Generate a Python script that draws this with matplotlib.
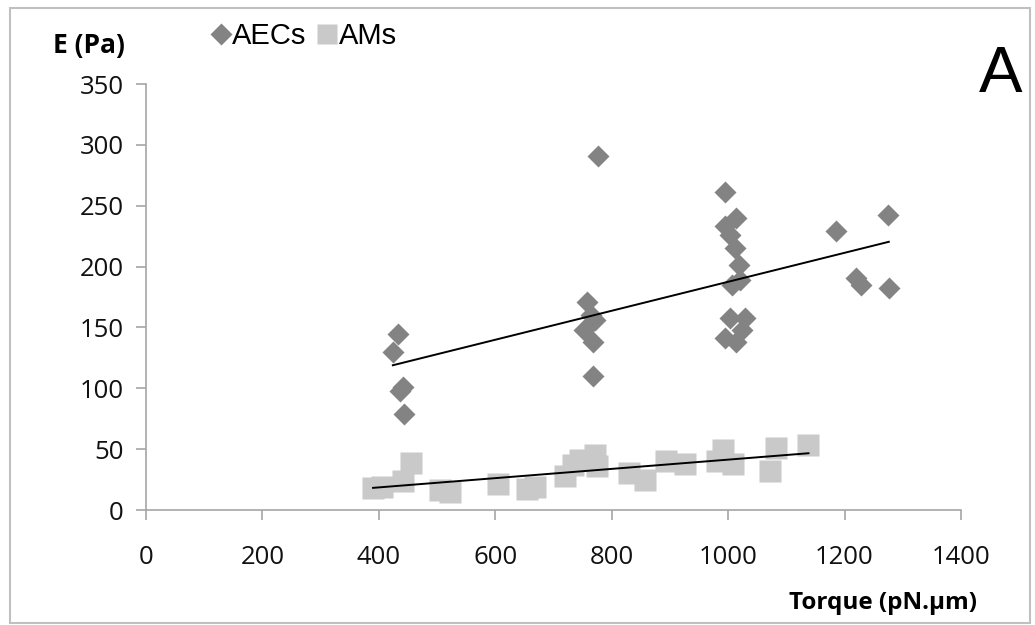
import numpy as np
import matplotlib.pyplot as plt
from matplotlib.lines import Line2D
from matplotlib.patches import Rectangle

# AECs (diamonds)
aec_torque = [433, 424, 437, 442, 443, 776, 758, 765, 771, 752, 768, 767,
              994, 1013, 994, 1003, 1012, 1018, 1006, 1020, 1003, 1029, 994,
              1013, 1023, 1185, 1274, 1220, 1229, 1276]
aec_e = [145, 130, 98, 101, 79, 291, 171, 160, 156, 148, 138, 110,
         261, 240, 233, 226, 215, 201, 185, 189, 158, 158, 141,
         138, 148, 229, 242, 191, 185, 182]

# AMs (squares)
am_torque = [390, 405, 442, 456, 505, 522, 604, 654, 668, 720, 734, 746,
             771, 774, 829, 857, 893, 926, 980, 991, 1009, 1072, 1083, 1138]
am_e = [18, 19, 24, 39, 16.5, 15, 21, 17, 19, 28, 37, 41,
        45, 36, 30, 25, 40, 38, 40, 49, 38, 32, 51, 53]

xticks = [0, 200, 400, 600, 800, 1000, 1200, 1400]
yticks = [0, 50, 100, 150, 200, 250, 300, 350]

aec_col = '#838383'
am_col = '#c9c9c9'
axis_col = '#a6a6a6'

plt.rcParams['font.family'] = ['Open Sans', 'DejaVu Sans']

fig = plt.figure(figsize=(10.35, 6.25), dpi=100)
ax = fig.add_axes([0.1411, 0.184, 0.9285 - 0.1411, 0.8656 - 0.184])

ax.plot(am_torque, am_e, 's', color=am_col, ms=15.5, mec='none', zorder=2)
ax.plot(aec_torque, aec_e, 'D', color=aec_col, ms=11, mec='none', zorder=3)

# linear trendlines over each data range
for xs, ys in [(aec_torque, aec_e), (am_torque, am_e)]:
    k, b = np.polyfit(xs, ys, 1)
    xr = np.array([min(xs), max(xs)])
    ax.plot(xr, k * xr + b, color='black', lw=1.4, zorder=4)

ax.set_xlim(0, 1400)
ax.set_ylim(0, 350)
ax.set_xticks(xticks)
ax.set_yticks(yticks)
ax.tick_params(axis='both', labelsize=18.5, length=7, width=1.2,
               color=axis_col, labelcolor='#111111')
ax.tick_params(axis='y', pad=9)
ax.tick_params(axis='x', pad=18)
for s in ['top', 'right']:
    ax.spines[s].set_visible(False)
for s in ['left', 'bottom']:
    ax.spines[s].set_color(axis_col)
    ax.spines[s].set_linewidth(1.2)

fig.text(53 / 1035, 1 - 46 / 625, 'E (Pa)', fontsize=19, fontweight='bold',
         ha='left', va='center')
fig.text(977 / 1035, 1 - 603 / 625, 'Torque (pN.\u00b5m)', fontsize=17.5,
         fontweight='bold', ha='right', va='center')
fig.text(1022 / 1035, 1 - 75 / 625, 'A', fontsize=47, ha='right',
         va='center', family='Liberation Sans')

handles = [Line2D([], [], marker='D', ls='none', color=aec_col, ms=11, mec='none'),
           Line2D([], [], marker='s', ls='none', color=am_col, ms=14, mec='none')]
fig.legend(handles, ['AECs', 'AMs'], loc='center left',
           bbox_to_anchor=(212 / 1035, 1 - 36 / 625), ncol=2, frameon=False,
           handlelength=0.6, handletextpad=0.1, columnspacing=0.4,
           prop={'family': 'Liberation Sans', 'size': 21}, borderpad=0,
           borderaxespad=0)

fig.patches.append(Rectangle((10 / 1035, 2 / 625), 1020 / 1035, 615 / 625,
                             transform=fig.transFigure, fill=False,
                             edgecolor='#c0c0c0', lw=1.5))

fig.savefig('out.png', dpi=100)
